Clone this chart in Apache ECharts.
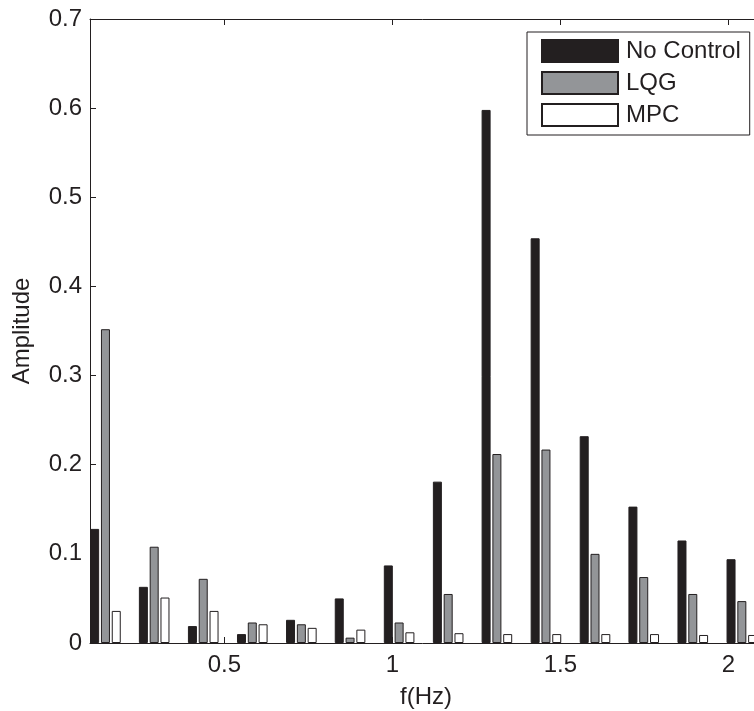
<!DOCTYPE html>
<html>
<head>
<meta charset="utf-8">
<title>Amplitude spectrum</title>
<script src="https://cdn.jsdelivr.net/npm/echarts@6/dist/echarts.min.js"></script>
<style>
  html, body { margin: 0; padding: 0; background: #fff; }
  #chart { width: 754px; height: 711px; }
</style>
</head>
<body>
<div id="chart"></div>
<script>
// Harmonic frequencies (Hz)
const freqs = [0.146, 0.291, 0.437, 0.583, 0.729, 0.874, 1.020, 1.166, 1.311, 1.457, 1.603, 1.748, 1.894, 2.040];

// Amplitude at each frequency
const noControl = [0.128, 0.063, 0.019, 0.010, 0.026, 0.050, 0.087, 0.181, 0.598, 0.454, 0.232, 0.153, 0.115, 0.094];
const lqg       = [0.352, 0.108, 0.072, 0.023, 0.021, 0.006, 0.023, 0.055, 0.212, 0.217, 0.100, 0.074, 0.055, 0.047];
const mpc       = [0.036, 0.051, 0.036, 0.021, 0.017, 0.015, 0.012, 0.011, 0.010, 0.010, 0.010, 0.010, 0.009, 0.009];

const xTicks = [0.5, 1, 1.5, 2];
const yTicks = [0, 0.1, 0.2, 0.3, 0.4, 0.5, 0.6, 0.7];

const ink = '#231f20';
const font = 'Liberation Sans, Arial, Helvetica, sans-serif';

function pairs(vals) {
  return freqs.map((f, i) => [f, vals[i]]);
}

function barSeries(name, vals, fill) {
  return {
    name: name,
    type: 'bar',
    data: pairs(vals),
    barWidth: 9,
    barGap: '20%',
    itemStyle: { color: fill, borderColor: ink, borderWidth: 1 },
    emphasis: { disabled: true },
    animation: false
  };
}

const chart = echarts.init(document.getElementById('chart'), null, { renderer: 'canvas' });

const xCommon = {
  type: 'value',
  min: 0.1,
  max: 2.1,
  splitLine: { show: false },
  axisLine: { show: true, onZero: false, lineStyle: { color: ink, width: 1 } },
  axisTick: { show: true, inside: true, length: 6, lineStyle: { color: ink }, customValues: xTicks }
};

chart.setOption({
  backgroundColor: '#fff',
  animation: false,
  textStyle: { fontFamily: font, color: ink },
  grid: { left: 90, top: 19, right: -8, bottom: 68, containLabel: false, outerBoundsMode: 'none' },
  legend: {
    orient: 'vertical',
    left: 527,
    top: 32,
    padding: [7, 9, 8, 14],
    itemGap: 8,
    itemWidth: 76,
    itemHeight: 22,
    icon: 'rect',
    selectedMode: false,
    backgroundColor: '#fff',
    borderColor: ink,
    borderWidth: 1,
    textStyle: { fontFamily: font, fontSize: 24, color: ink, padding: [0, 0, 0, 3] },
    data: ['No Control', 'LQG', 'MPC']
  },
  xAxis: [
    Object.assign({}, xCommon, {
      position: 'bottom',
      name: 'f(Hz)',
      nameLocation: 'middle',
      nameGap: 42,
      nameTextStyle: { fontFamily: font, fontSize: 24, color: ink },
      axisLabel: {
        show: true,
        customValues: xTicks,
        margin: 10,
        fontFamily: font,
        fontSize: 24,
        color: ink,
        formatter: v => String(v)
      }
    }),
    Object.assign({}, xCommon, {
      position: 'top',
      axisLabel: { show: false }
    })
  ],
  yAxis: {
    type: 'value',
    min: 0,
    max: 0.7,
    interval: 0.1,
    name: 'Amplitude',
    nameLocation: 'middle',
    nameGap: 56,
    nameTextStyle: { fontFamily: font, fontSize: 24, color: ink },
    splitLine: { show: false },
    axisLine: { show: true, lineStyle: { color: ink, width: 1 } },
    axisTick: { show: true, inside: true, length: 6, lineStyle: { color: ink } },
    axisLabel: {
      margin: 8,
      fontFamily: font,
      fontSize: 24,
      color: ink,
      formatter: v => (Math.abs(v) < 1e-9 ? '0' : v.toFixed(1)),
      customValues: yTicks
    }
  },
  series: [
    barSeries('No Control', noControl, ink),
    barSeries('LQG', lqg, '#939598'),
    barSeries('MPC', mpc, '#ffffff')
  ]
});
</script>
</body>
</html>
